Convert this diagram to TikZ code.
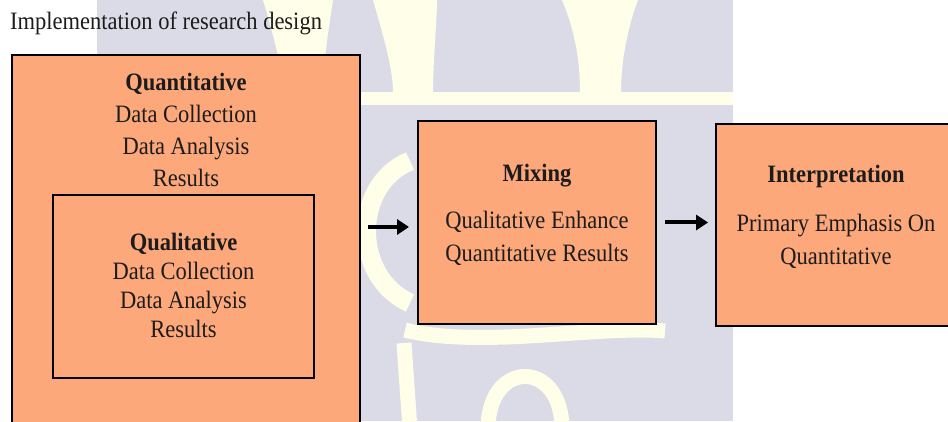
\documentclass[tikz,border=0pt]{standalone}
\usepackage{fontspec}
\setmainfont{Liberation Serif}[FakeStretch=0.9]
\usetikzlibrary{arrows.meta}
\definecolor{boxfill}{RGB}{252,168,122}
\definecolor{wmback}{RGB}{219,219,231}
\definecolor{wmgold}{RGB}{254,254,233}
\definecolor{ink}{RGB}{28,28,28}

\begin{document}
\begin{tikzpicture}[x=1pt,y=1pt,
  panel/.style={draw=black, line width=2pt, fill=boxfill, rectangle, inner sep=0pt},
  txt/.style={text=ink, align=center, font=\fontsize{25}{32}\selectfont, inner sep=0pt},
  flow/.style={line width=4pt, -{Triangle[length=12pt,width=15pt]}},
  orn/.style={draw=wmgold, line width=15pt}
]
\useasboundingbox (0,0) rectangle (948,421);

% faint background emblem
\fill[wmback] (97,0) rectangle (733,421);
\fill[wmgold] (97,316) rectangle (733,329);
\fill[wmgold] (263,421) .. controls (275,380) and (283,350) .. (283,329) -- (323,329) .. controls (323,360) and (330,400) .. (333,421) -- cycle;
\fill[wmgold] (373,421) .. controls (385,380) and (393,350) .. (393,329) -- (433,329) .. controls (433,360) and (437,400) .. (437,421) -- cycle;
\fill[wmgold] (562,421) .. controls (575,390) and (580,360) .. (580,329) -- (621,329) .. controls (621,360) and (628,395) .. (638,421) -- cycle;
\draw[orn, line width=19pt] (410,260) .. controls (352,236) and (352,144) .. (410,118);
\draw[orn] (405,91) .. controls (480,72) and (600,96) .. (665,90);
\draw[orn] (488,-8) .. controls (488,62) and (562,62) .. (562,-8);
\draw[orn] (410,-8) -- (404,78);

% boxes
\node[panel, minimum width=348pt, minimum height=371pt] (quant) at (186,180.5) {};
\node[panel, minimum width=261pt, minimum height=183pt] (qual) at (183.5,134.5) {};
\node[panel, minimum width=238pt, minimum height=203pt] (mix) at (537,198.5) {};
\node[panel, minimum width=236pt, minimum height=202pt] (interp) at (834,196) {};

% texts
\node[txt, anchor=base west] (title) at (10,391) {Implementation of research design};
\node[txt] (quanttext) at (186,291.5) {\textbf{Quantitative}\\Data Collection\\Data Analysis\\Results};
\node[txt, font=\fontsize{25}{29}\selectfont] (qualtext) at (183.5,136) {\textbf{Qualitative}\\Data Collection\\Data Analysis\\Results};
\node[txt] (mixhead) at (537,245) {\textbf{Mixing}};
\node[txt, font=\fontsize{25}{33}\selectfont] (mixbody) at (537,182.5) {Qualitative Enhance\\Quantitative Results};
\node[txt] (interphead) at (836,245) {\textbf{Interpretation}};
\node[txt, font=\fontsize{25}{33}\selectfont] (interpbody) at (836,179.5) {Primary Emphasis On\\Quantitative};

% connectors
\draw[flow, shorten <=7pt, shorten >=8pt] ([yshift=-4.5pt]quant.east |- mix.west) -- ([yshift=-4.5pt]mix.west);
\draw[flow, shorten <=8pt, shorten >=7pt] (mix.east) -- (interp.west |- mix.east);
\end{tikzpicture}
\end{document}
